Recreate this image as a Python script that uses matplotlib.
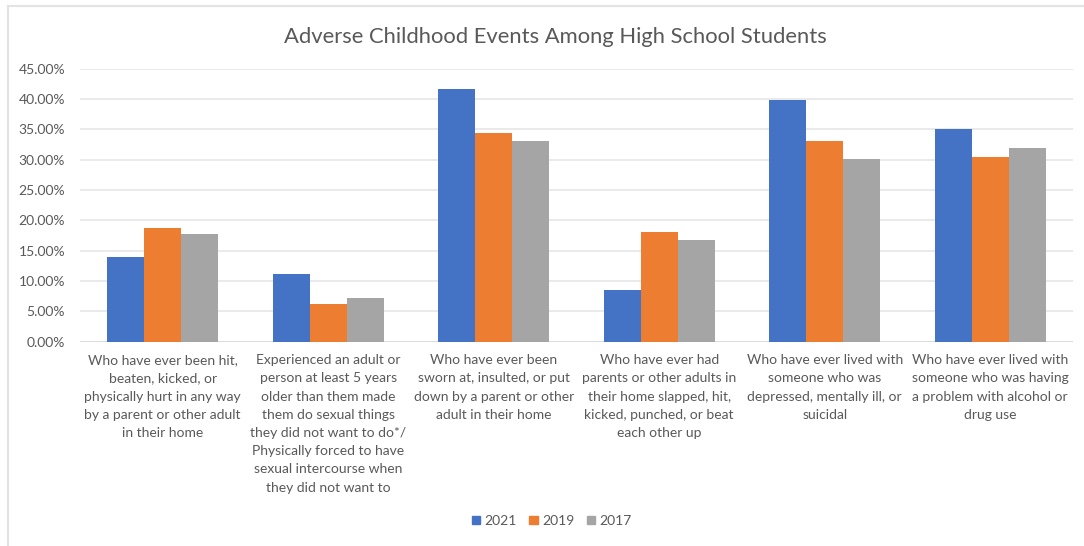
import matplotlib
matplotlib.use("Agg")
import matplotlib.pyplot as plt
from matplotlib.lines import Line2D
from matplotlib.ticker import FuncFormatter, MultipleLocator
import numpy as np

plt.rcParams['font.family'] = ['Lato', 'DejaVu Sans']

categories = [
    "Who have ever been hit,\nbeaten, kicked, or\nphysically hurt in any way\nby a parent or other adult\nin their home",
    "Experienced an adult or\nperson at least 5 years\nolder than them made\nthem do sexual things\nthey did not want to do*/\nPhysically forced to have\nsexual intercourse when\nthey did not want to",
    "Who have ever been\nsworn at, insulted, or put\ndown by a parent or other\nadult in their home",
    "Who have ever had\nparents or other adults in\ntheir home slapped, hit,\nkicked, punched, or beat\neach other up",
    "Who have ever lived with\nsomeone who was\ndepressed, mentally ill, or\nsuicidal",
    "Who have ever lived with\nsomeone who was having\na problem with alcohol or\ndrug use",
]
series_names = ["2021", "2019", "2017"]
values_2021 = [13.9, 11.2, 41.6, 8.5, 39.9, 35.0]
values_2019 = [18.8, 6.3, 34.4, 18.1, 33.1, 30.4]
values_2017 = [17.7, 7.3, 33.1, 16.7, 30.2, 31.9]
colors = ["#4472C4", "#ED7D31", "#A5A5A5"]

fig = plt.figure(figsize=(10.84, 5.46), dpi=100)
ax = fig.add_axes([0.0738, 0.374, 0.916, 0.5])

x = np.arange(len(categories))
w = 0.223
for i, (vals, name, c) in enumerate(zip([values_2021, values_2019, values_2017], series_names, colors)):
    ax.bar(x + (i - 1) * w, vals, width=w, color=c, label=name, zorder=3)

ax.set_xlim(-0.5, len(categories) - 0.5)
ax.set_ylim(0, 45)
ax.yaxis.set_major_locator(MultipleLocator(5))
ax.yaxis.set_major_formatter(FuncFormatter(lambda v, p: f"{v:.2f}%"))
ax.grid(axis='y', color='#E6E6E6', linewidth=1.2, zorder=0)
for s in ax.spines.values():
    s.set_visible(False)
ax.tick_params(axis='y', length=0, labelsize=10, labelcolor='#595959', pad=10.8)
ax.tick_params(axis='x', length=0, labelsize=10, labelcolor='#595959', pad=9)
ax.set_xticks(x)
ax.set_xticklabels(categories, linespacing=1.62, va='top')
ax.axhline(0, color='#D9D9D9', linewidth=1.2, zorder=2)

fig.text(0.512, 0.932, "Adverse Childhood Events Among High School Students",
         ha='center', va='center', fontsize=15.8, color='#595959')

handles = [plt.Rectangle((0, 0), 1, 1, color=c) for c in colors]
fig.legend(handles, series_names, loc='center', bbox_to_anchor=(0.509, 0.046),
           ncol=3, frameon=False, fontsize=10, labelcolor='#595959',
           handlelength=0.6, handleheight=0.6, handletextpad=0.3, columnspacing=0.9)

fig.add_artist(Line2D([8 / 1084, 1.0], [1 - 6 / 546, 1 - 6 / 546], transform=fig.transFigure,
                      color='#E3E3E3', linewidth=1.5))
fig.add_artist(Line2D([8 / 1084, 8 / 1084], [0.0, 1 - 6 / 546], transform=fig.transFigure,
                      color='#E3E3E3', linewidth=1.5))

fig.savefig("out.png", dpi=100, facecolor='white')
